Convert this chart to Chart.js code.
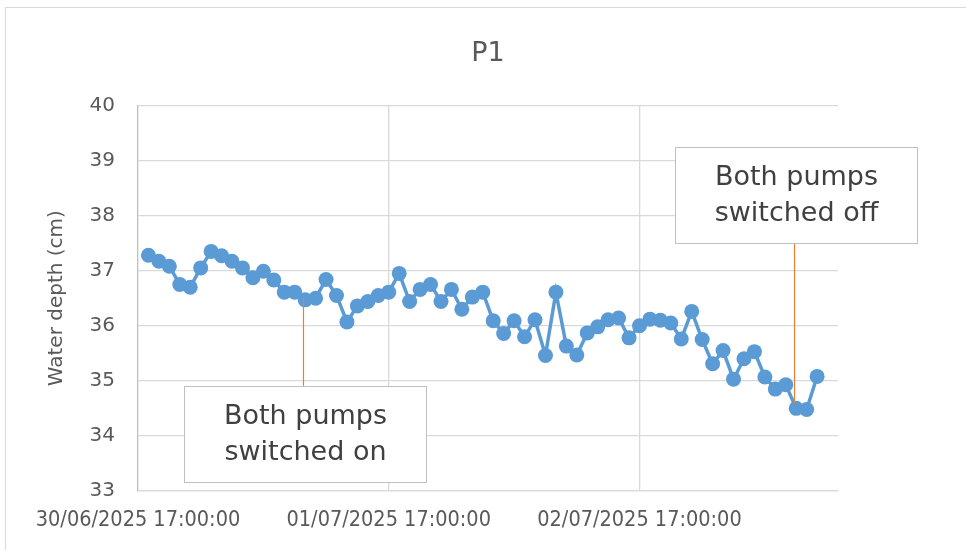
<!DOCTYPE html>
<html>
<head>
<meta charset="utf-8">
<script src="https://cdn.jsdelivr.net/npm/chart.js@4.4.1/dist/chart.umd.min.js"></script>
<style>
  body { margin: 0; background: #fff; }
  #wrap { width: 966px; height: 550px; }
</style>
</head>
<body>
<div id="wrap"><canvas id="grafico" width="966" height="550"></canvas></div>
<script>
// hourly readings, first category is 30/06/2025 17:00:00 (no reading there)
const startTime = Date.UTC(2025, 5, 30, 17, 0, 0)
const nCategories = 68
const labelEvery = 24

const depth = [
  37.28, 37.17, 37.08, 36.75, 36.70, 37.05, 37.35, 37.27, 37.17, 37.05,
  36.87, 36.99, 36.83, 36.61, 36.61, 36.47, 36.50, 36.84, 36.55, 36.07,
  36.36, 36.44, 36.55, 36.61, 36.95, 36.44, 36.66, 36.75, 36.44, 36.66,
  36.30, 36.52, 36.61, 36.09, 35.86, 36.09, 35.80, 36.11, 35.46, 36.61,
  35.63, 35.47, 35.87, 35.98, 36.11, 36.14, 35.78, 36.00, 36.12, 36.10,
  36.05, 35.76, 36.26, 35.75, 35.31, 35.55, 35.03, 35.40, 35.53, 35.07,
  34.85, 34.93, 34.50, 34.48, 35.08
]

const yTicks = [33, 34, 35, 36, 37, 38, 39, 40]

// callouts: category index of the point, text lines
const callouts = [
  { cat: 16, lines: ['Both pumps', 'switched on'], below: true },
  { cat: 63, lines: ['Both pumps', 'switched off'], below: false }
]

function pad(n) { return (n < 10 ? '0' : '') + n }
const categories = []
for (let h = 0; h < nCategories; h++) {
  const d = new Date(startTime + h * 3600000)
  categories.push(pad(d.getUTCDate()) + '/' + pad(d.getUTCMonth() + 1) + '/' + d.getUTCFullYear() +
    ' ' + pad(d.getUTCHours()) + ':00:00')
}

const series = [null].concat(depth)
const fontMain = "'DejaVu Sans', sans-serif"
const fontNarrow = "'DejaVu Sans Condensed', 'Liberation Sans Narrow', 'DejaVu Sans', sans-serif"

const frame = {
  id: 'frame',
  beforeDraw(chart) {
    const c = chart.ctx
    c.save()
    c.fillStyle = '#fff'
    c.fillRect(0, 0, chart.width, chart.height)
    c.strokeStyle = '#d9d9d9'
    c.lineWidth = 1
    c.strokeRect(5.5, 7.5, 2000, 2000)
    c.restore()
  }
}

const calloutPlugin = {
  id: 'callouts',
  afterDatasetsDraw(chart) {
    const c = chart.ctx
    const xs = chart.scales.x
    const ys = chart.scales.y
    c.save()
    callouts.forEach(co => {
      const px = xs.getPixelForValue(co.cat)
      const py = ys.getPixelForValue(series[co.cat])
      const w = 242, h = 96
      let top, lineFrom, lineTo
      if (co.below) {
        top = py + 86
        lineFrom = py - 2
        lineTo = top
      } else {
        top = py - 261
        lineFrom = top + h
        lineTo = py - 5
      }
      const left = Math.round(px - w / 2) + 0.5
      c.strokeStyle = '#ed7d31'
      c.lineWidth = 1.2
      c.beginPath()
      c.moveTo(Math.round(px) - 1.5, lineFrom)
      c.lineTo(Math.round(px) - 1.5, lineTo)
      c.stroke()
      c.fillStyle = '#fff'
      c.fillRect(left, Math.round(top) + 0.5, w, h)
      c.strokeStyle = '#bfbfbf'
      c.lineWidth = 1
      c.strokeRect(left, Math.round(top) + 0.5, w, h)
      c.fillStyle = '#404040'
      c.font = '27px ' + fontMain
      c.textAlign = 'center'
      c.textBaseline = 'middle'
      c.fillText(co.lines[0], left + w / 2, top + h / 2 - 17)
      c.fillText(co.lines[1], left + w / 2, top + h / 2 + 19)
    })
    c.restore()
  }
}

const ctx = document.getElementById('grafico')

new Chart(ctx, {
  type: 'line',
  data: {
    labels: categories,
    datasets: [{
      label: 'P1',
      data: series,
      borderColor: '#5b9bd5',
      backgroundColor: '#5b9bd5',
      borderWidth: 3.5,
      pointRadius: 7.5,
      pointHoverRadius: 7.5,
      pointBorderWidth: 0,
      tension: 0
    }]
  },
  options: {
    responsive: false,
    animation: false,
    layout: { padding: { left: 0, right: 128, top: 0, bottom: 16 } },
    plugins: {
      legend: { display: false },
      tooltip: { enabled: false },
      title: {
        display: true,
        text: 'P1',
        fullSize: false,
        color: '#595959',
        font: { family: fontMain, size: 27, weight: 'normal' },
        padding: { top: 38, bottom: 35 }
      }
    },
    scales: {
      x: {
        type: 'category',
        offset: false,
        afterFit: s => { s.height = 43 },
        grid: {
          drawTicks: false,
          color: c => (c.index > 0 && c.index % labelEvery === 0) ? '#d9d9d9' : 'rgba(0,0,0,0)',
          lineWidth: 1.3
        },
        border: { color: '#d9d9d9', width: 1.3 },
        ticks: {
          autoSkip: false,
          maxRotation: 0,
          minRotation: 0,
          padding: 17,
          color: '#595959',
          font: { family: fontNarrow, size: 21.5 },
          callback: function (v, i) { return i % labelEvery === 0 ? categories[i] : '' }
        }
      },
      y: {
        min: yTicks[0],
        max: yTicks[yTicks.length - 1],
        afterBuildTicks: s => { s.ticks = yTicks.map(v => ({ value: v })) },
        afterFit: s => { s.width = 138 },
        grid: { drawTicks: false, color: '#d9d9d9', lineWidth: 1.3 },
        border: { color: '#bfbfbf', width: 1.3 },
        ticks: {
          padding: 23,
          color: '#595959',
          font: { family: fontMain, size: 20 }
        },
        title: {
          display: true,
          text: 'Water depth (cm)',
          color: '#595959',
          font: { family: fontMain, size: 20 },
          padding: { top: 45, bottom: 0 }
        }
      }
    }
  },
  plugins: [frame, calloutPlugin]
})
</script>
</body>
</html>
